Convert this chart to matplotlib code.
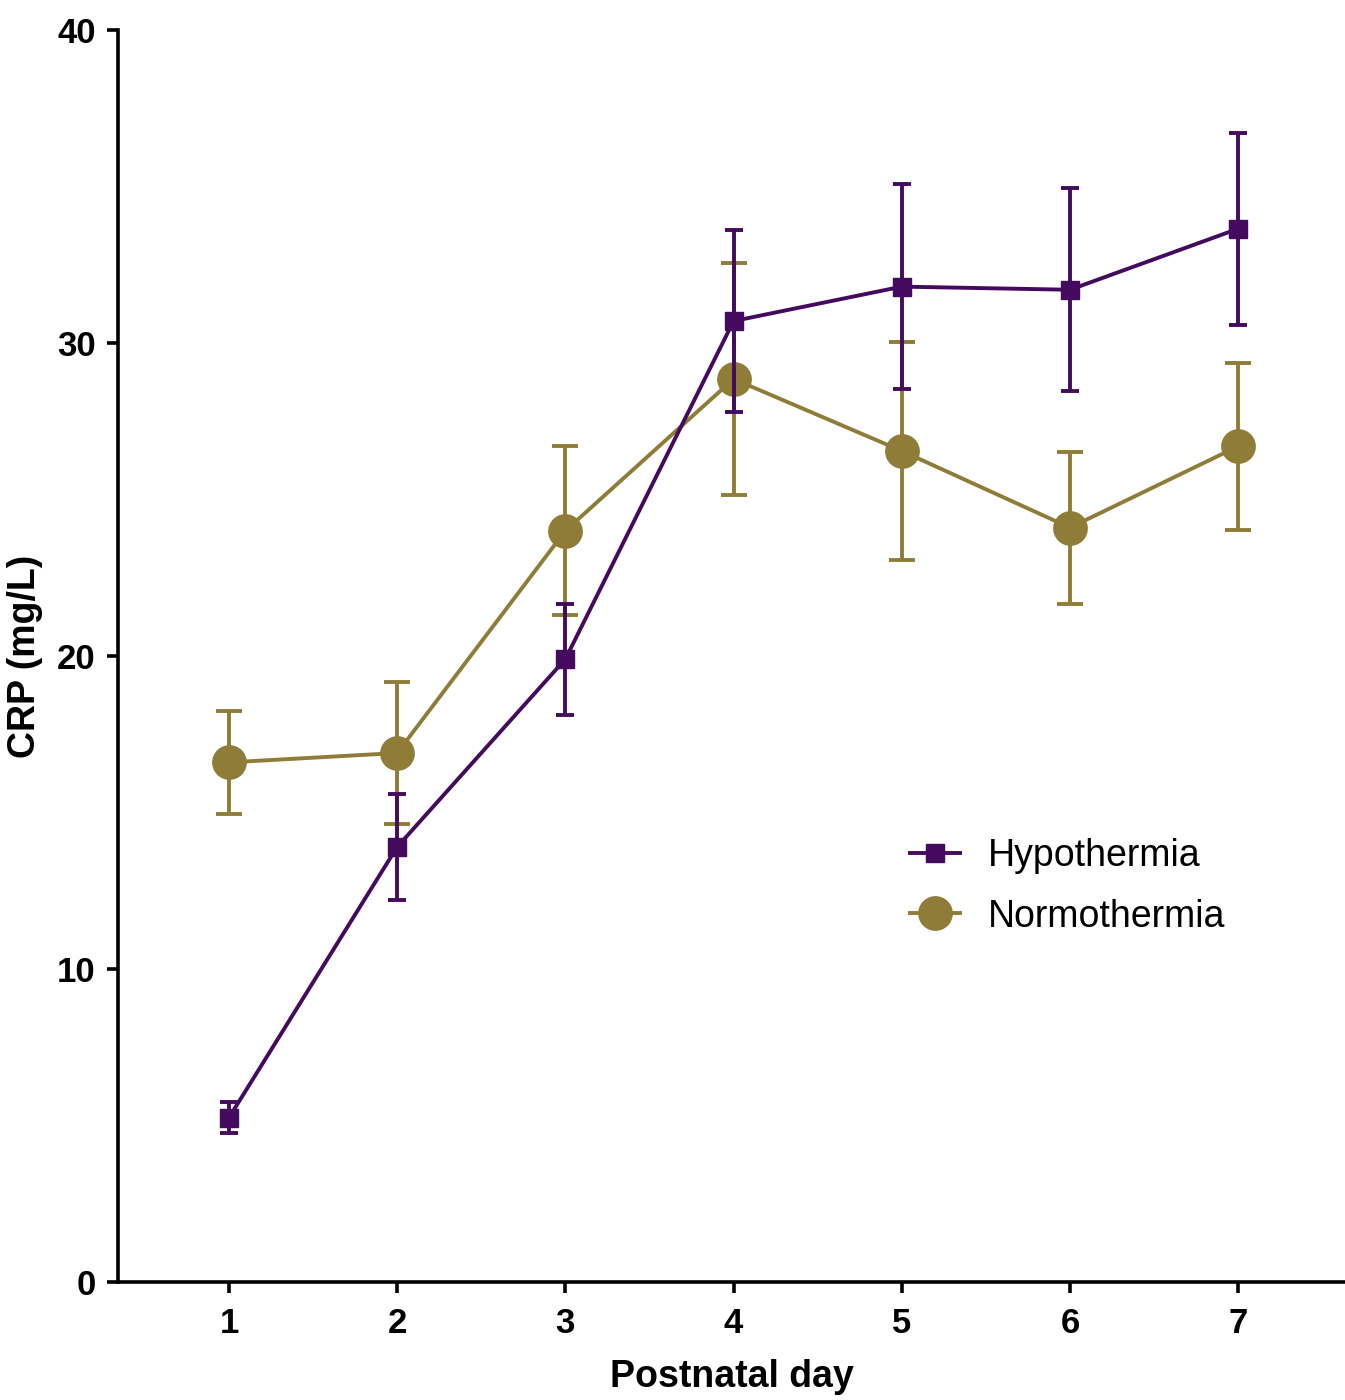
import numpy as np
import matplotlib.pyplot as plt
from matplotlib.lines import Line2D

plt.rcParams['font.family'] = ['Liberation Sans', 'DejaVu Sans']

# datos
days = [1, 2, 3, 4, 5, 6, 7]
hypo_mean = [5.25, 13.9, 19.9, 30.7, 31.8, 31.7, 33.65]
hypo_err = [0.5, 1.7, 1.77, 2.9, 3.27, 3.25, 3.07]
normo_mean = [16.6, 16.9, 24.0, 28.85, 26.55, 24.1, 26.7]
normo_err = [1.64, 2.28, 2.7, 3.7, 3.48, 2.43, 2.66]

purple = '#440a5e'
olive = '#8f7c37'

fig = plt.figure(figsize=(13.45, 14), dpi=100)
ax = fig.add_axes([0.0877, 0.0843, 0.9123, 0.8943])

ax.errorbar(days, normo_mean, yerr=normo_err, color=olive, marker='o',
            markersize=24, linewidth=2.8, elinewidth=2.8, capsize=9.5,
            capthick=2.8, zorder=2)
ax.errorbar(days, hypo_mean, yerr=hypo_err, color=purple, marker='s',
            markersize=13, linewidth=2.8, elinewidth=2.8, capsize=6.5,
            capthick=2.8, zorder=3)

ax.set_xlim(0.34, 7.635)
ax.set_ylim(0, 40)
ax.set_xticks(days)
ax.set_yticks([0, 10, 20, 30, 40])

for s in ['top', 'right']:
    ax.spines[s].set_visible(False)
for s in ['left', 'bottom']:
    ax.spines[s].set_linewidth(2.6)

ax.tick_params(axis='both', direction='out', length=8, width=2.6,
               labelsize=25, pad=8)
ax.tick_params(axis='x', pad=10)
for lab in ax.get_xticklabels() + ax.get_yticklabels():
    lab.set_fontweight('bold')

ax.set_xlabel('Postnatal day', fontsize=27, fontweight='bold', labelpad=14)
ax.set_ylabel('CRP (mg/L)', fontsize=27, fontweight='bold', labelpad=10)

# leyenda sin barras de error
handles = [
    Line2D([], [], color=purple, marker='s', markersize=13, linewidth=2.8),
    Line2D([], [], color=olive, marker='o', markersize=24, linewidth=2.8),
]
ax.legend(handles, ['Hypothermia', 'Normothermia'], loc='center left',
          bbox_to_anchor=(0.6178, 0.316), frameon=False, fontsize=27,
          handlelength=1.33, labelspacing=0.65, handletextpad=0.75)

fig.savefig('out.png', dpi=100)
